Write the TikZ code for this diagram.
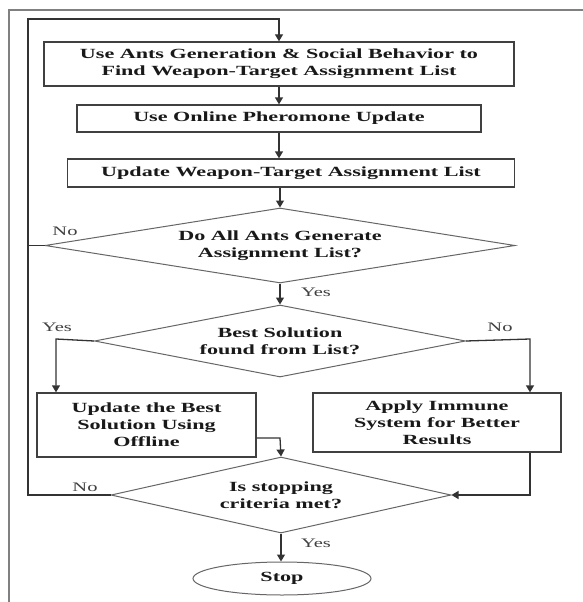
\documentclass[tikz,border=0pt]{standalone}
\usepackage{fontspec}
\setmainfont{Liberation Serif}[FakeStretch=1.58]
\usetikzlibrary{shapes.geometric,arrows.meta}
\begin{document}
\begin{tikzpicture}[x=1pt,y=-1pt,
  box/.style={draw=black!75,line width=1.3pt,rectangle,inner sep=0pt,align=center,
    font=\fontsize{14}{17}\selectfont\bfseries,text=black!90},
  dia/.style={draw=black!60,line width=1pt,diamond,inner sep=0pt,align=center,
    font=\fontsize{14}{17}\selectfont\bfseries,text=black!90},
  term/.style={draw=black!60,line width=1pt,ellipse,inner sep=0pt,
    font=\fontsize{14}{17}\selectfont\bfseries,text=black!90},
  lbl/.style={font=\fontsize{13}{15}\selectfont,text=black!75,inner sep=0pt},
  conn/.style={draw=black!80,line width=1.3pt},
  arr/.style={conn,-{Triangle[length=7pt,width=8pt]}},
  frameline/.style={draw=black!50,line width=1.6pt}]
\useasboundingbox (0,0) rectangle (583,602);
\fill[white] (0,0) rectangle (583,602);
\draw[frameline] (9,602) -- (9,10) -- (583,10);

\node[box,minimum width=470,minimum height=44] (b1) at (279,64)
  {Use Ants Generation \& Social Behavior to\\Find Weapon-Target Assignment List};
\node[box,minimum width=404,minimum height=27] (b2) at (279,118.5)
  {Use Online Pheromone Update};
\node[box,minimum width=447,minimum height=28] (b3) at (291,173)
  {Update Weapon-Target Assignment List};
\node[dia,minimum width=470,minimum height=75,aspect=6.27] (d1) at (280,245.5)
  {Do All Ants Generate\\Assignment List?};
\node[dia,minimum width=371,minimum height=72,aspect=5.15] (d2) at (280,341)
  {Best Solution\\found from List?};
\node[box,minimum width=219,minimum height=64] (b4) at (146.5,425)
  {Update the Best\\Solution Using\\Offline};
\node[box,minimum width=248,minimum height=59] (b5) at (437,422.5)
  {Apply Immune\\System for Better\\Results};
\node[dia,minimum width=340,minimum height=76,aspect=4.47] (d3) at (281,495)
  {Is stopping\\criteria met?};
\node[term,minimum width=178,minimum height=33] (stop) at (282,578.5) {Stop};

\node[lbl] (no1) at (65,231) {No};
\node[lbl] (yes1) at (316,292) {Yes};
\node[lbl] (yes2) at (57,327) {Yes};
\node[lbl] (no2) at (500,327) {No};
\node[lbl] (no3) at (85,487) {No};
\node[lbl] (yes3) at (316,543) {Yes};

\coordinate (loopT) at (28,19);
\coordinate (l2) at (56,339);
\coordinate (r2) at (530,339);
\coordinate (j4) at (280,438);

\draw[arr] (d3.west) -| (loopT) -| (b1.north);
\draw[arr] (b1.south) -- (b2.north);
\draw[arr] (b2.south) -- (b2.south |- b3.north);
\draw[arr] (b3.south -| d1.north) -- (d1.north);
\draw[conn] (d1.west) -- (d1.west -| loopT);
\draw[arr] (d1.south) -- (d2.north);
\draw[arr] (d2.west) -- (l2) -- (l2 |- b4.north);
\draw[arr] (d2.east) -- (r2) -- (r2 |- b5.north);
\draw[arr] (b4.east |- j4) -- (j4) -- (d3.north);
\draw[arr] (r2 |- b5.south) |- (d3.east);
\draw[arr] (d3.south) -- (d3.south |- stop.north);
\end{tikzpicture}
\end{document}
